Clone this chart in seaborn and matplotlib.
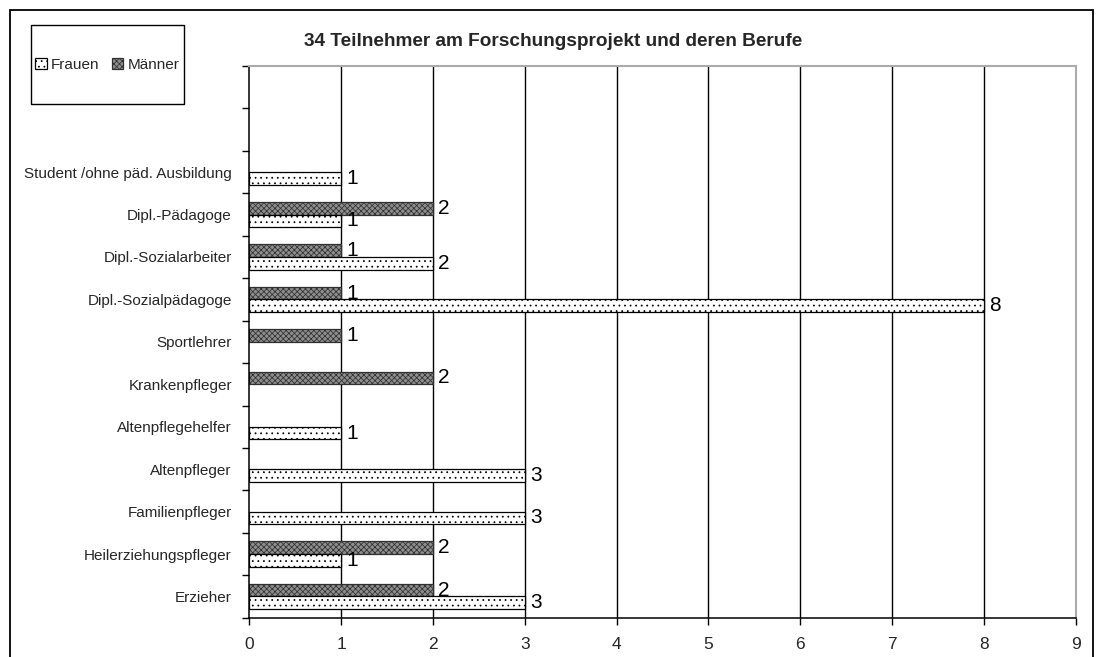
import matplotlib
matplotlib.use("Agg")
import matplotlib.pyplot as plt
from matplotlib.patches import Rectangle, Patch
from matplotlib.ticker import FixedLocator
import seaborn as sns
import pandas as pd
import numpy as np

# ---- data ----
categories = ["Student /ohne päd. Ausbildung", "Dipl.-Pädagoge", "Dipl.-Sozialarbeiter",
              "Dipl.-Sozialpädagoge", "Sportlehrer", "Krankenpfleger", "Altenpflegehelfer",
              "Altenpfleger", "Familienpfleger", "Heilerziehungspfleger", "Erzieher"]
frauen = [1, 1, 2, 8, None, None, 1, 3, 3, 1, 3]
maenner = [None, 2, 1, 1, 1, 2, None, None, None, 2, 2]
series_names = ["Frauen", "Männer"]
x_ticks = list(range(0, 10))
title = "34 Teilnehmer am Forschungsprojekt und deren Berufe"

rows = []
for c, f, m in zip(categories, frauen, maenner):
    if f is not None:
        rows.append({"Beruf": c, "Anzahl": f, "Geschlecht": "Frauen"})
    if m is not None:
        rows.append({"Beruf": c, "Anzahl": m, "Geschlecht": "Männer"})
df = pd.DataFrame(rows)

sns.set_theme(style="white")
plt.rcParams["font.family"] = ["Liberation Sans", "DejaVu Sans"]
plt.rcParams["hatch.linewidth"] = 0.55

W, H = 1098, 657
fig = plt.figure(figsize=(W / 100, H / 100), dpi=100)
x0, x1, y0, y1 = 249.3, 1075.5, 66.0, 617.7
ax = fig.add_axes([x0 / W, 1 - y1 / H, (x1 - x0) / W, (y1 - y0) / H])

face = {"Frauen": "#ffffff", "Männer": "#8e8e8e"}
hatch = {"Frauen": "...", "Männer": "xxxxxx"}
edge = {"Frauen": "black", "Männer": "#303030"}
sns.barplot(data=df, y="Beruf", x="Anzahl", hue="Geschlecht", order=categories,
            hue_order=["Männer", "Frauen"], palette=face, orient="h", width=0.6,
            dodge=True, legend=False, ax=ax, edgecolor="black", linewidth=0.9,
            saturation=1)

# style bars by series
for cont in ax.containers:
    for p in cont.patches:
        key = "Frauen" if p.get_facecolor()[0] > 0.95 else "Männer"
        p.set_hatch(hatch[key])
        p.set_edgecolor(edge[key])
    ax.bar_label(cont, padding=4, fontsize=15, color="black")

ax.set_xlim(0, 9)
ax.set_ylim(len(categories) - 0.5, -2.5)
ax.set_xticks(x_ticks)
ax.set_xticklabels([str(t) for t in x_ticks], fontsize=12.5)
ax.tick_params(axis="x", direction="out", length=5, width=1, pad=9, color="black", bottom=True)
ax.set_yticks(range(len(categories)))
ax.set_yticklabels(categories, fontsize=11)
ax.tick_params(axis="y", which="major", length=0, pad=12.5)
ax.yaxis.set_minor_locator(FixedLocator(np.arange(-2.5, len(categories), 1.0)))
ax.tick_params(axis="y", which="minor", direction="out", length=5, width=1, color="black", left=True)
ax.set_xlabel("")
ax.set_ylabel("")

ax.set_axisbelow(True)
ax.xaxis.grid(True, color="black", linewidth=1)
gl = ax.get_xgridlines()
gl[0].set_visible(False)
gl[-1].set_visible(False)

for s in ["left", "bottom"]:
    ax.spines[s].set_color("black")
    ax.spines[s].set_linewidth(1.1)
for s in ["top", "right"]:
    ax.spines[s].set_color("#ababab")
    ax.spines[s].set_linewidth(1.5)

# title
fig.text(553 / W, 1 - 42 / H, title, ha="center", va="center", fontsize=13.7, fontweight="bold")

# outer border
fig.add_artist(Rectangle((10 / W, -0.05), (1093 - 10) / W, 1 - 10 / H + 0.05,
                         transform=fig.transFigure, fill=False, ec="black", lw=1.3))
# legend box
fig.add_artist(Rectangle((31 / W, 1 - 104 / H), 153 / W, 79 / H,
                         transform=fig.transFigure, fill=False, ec="black", lw=1.0))
handles = [Patch(facecolor=face[n], edgecolor=edge[n], hatch=hatch[n], linewidth=0.9)
           for n in series_names]
fig.legend(handles, series_names, loc="center", bbox_to_anchor=(107.5 / W, 1 - 65 / H),
           ncol=2, frameon=False, fontsize=11, handlelength=0.75, handleheight=0.75,
           handletextpad=0.3, columnspacing=0.8, borderpad=0)

fig.savefig("out.png", dpi=100)
